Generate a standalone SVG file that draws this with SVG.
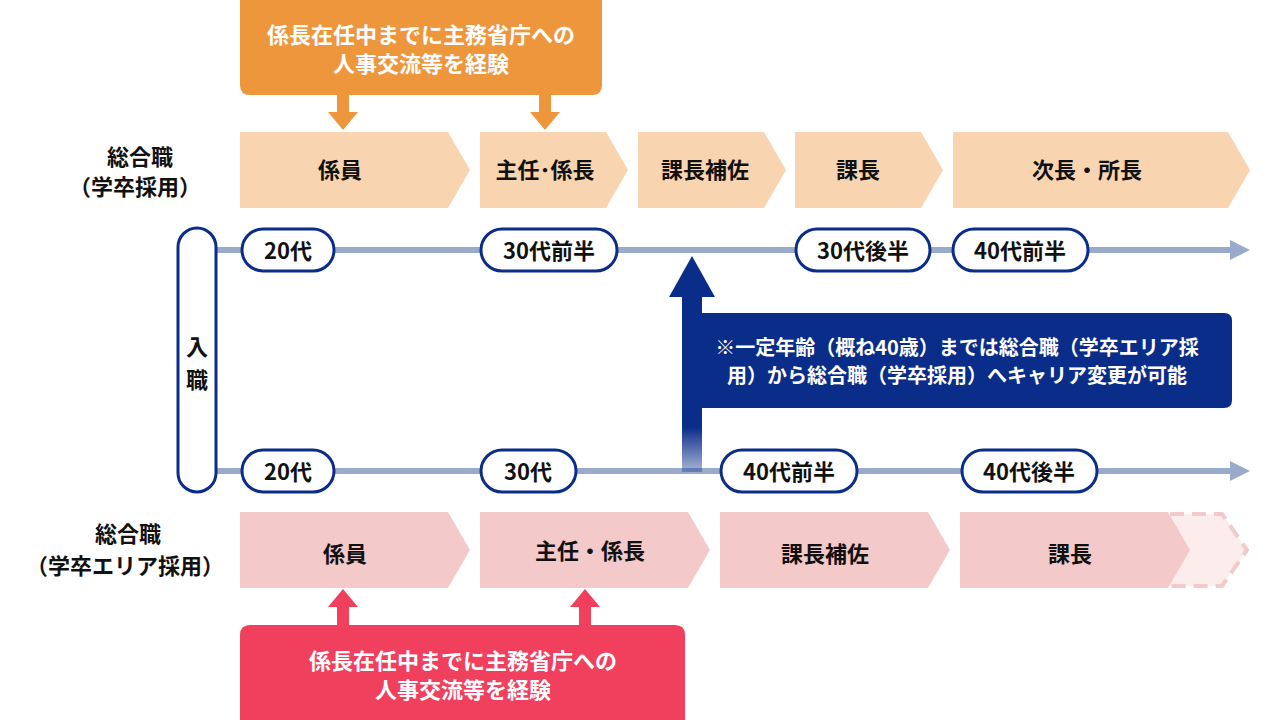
<svg xmlns="http://www.w3.org/2000/svg" width="1280" height="720" viewBox="0 0 1280 720">
<style>
text{font-family:"Noto Sans CJK JP","Noto Sans",sans-serif;font-weight:bold;font-size:22px;fill:#111;text-anchor:middle;dominant-baseline:central}
.w{fill:#fff}
.pill{fill:#fff;stroke:#0B2D8A;stroke-width:3}
.ct{fill:#F8D5B0}
.cb{fill:#F4C9C9}
.tl{stroke:#9AAACB;stroke-width:6;fill:none}
</style>
<defs>
<linearGradient id="fade" x1="0" y1="0" x2="0" y2="1">
<stop offset="0" stop-color="#0B2D8A"/><stop offset="0.75" stop-color="#0B2D8A"/><stop offset="1" stop-color="#0B2D8A" stop-opacity="0.35"/>
</linearGradient>
</defs>
<rect width="1280" height="720" fill="#fff"/>
<g id="connectors">
<line class="tl" x1="215" y1="250" x2="1232" y2="250"/>
<polygon points="1230,240 1250,250 1230,260" fill="#9AAACB"/>
<line class="tl" x1="215" y1="471" x2="1232" y2="471"/>
<polygon points="1230,461 1250,471 1230,481" fill="#9AAACB"/>
<rect x="337" y="95" width="12" height="18" fill="#EE963C"/><polygon points="328,112 358,112 343,130" fill="#EE963C"/>
<rect x="539" y="95" width="12" height="18" fill="#EE963C"/><polygon points="530,112 560,112 545,130" fill="#EE963C"/>
<rect x="337" y="606" width="12" height="20" fill="#F0405E"/><polygon points="328,607 358,607 343,589" fill="#F0405E"/>
<rect x="579" y="606" width="12" height="20" fill="#F0405E"/><polygon points="570,607 600,607 585,589" fill="#F0405E"/>
</g>
<g id="orange-note">
<path d="M240,0 H602 V85 Q602,95 592,95 H250 Q240,95 240,85 Z" fill="#EE963C"/>
<text class="w" x="421" y="33">係長在任中までに主務省庁への</text>
<text class="w" x="421" y="62">人事交流等を経験</text>
</g>
<g id="label-top"><text x="140" y="155">総合職</text><text x="135" y="185">（学卒採用）</text></g>
<g id="label-bottom"><text x="128" y="532">総合職</text><text x="125" y="564">（学卒エリア採用）</text></g>
<g id="top-chevrons">
<polygon class="ct" points="240,132 448,132 470,170 448,208 240,208"/><text x="340" y="168">係員</text>
<polygon class="ct" points="480,132 606,132 628,170 606,208 480,208"/><text x="545" y="168">主任･係長</text>
<polygon class="ct" points="638,132 764,132 786,170 764,208 638,208"/><text x="705" y="168">課長補佐</text>
<polygon class="ct" points="795,132 921,132 943,170 921,208 795,208"/><text x="858" y="168">課長</text>
<polygon class="ct" points="953,132 1228,132 1250,170 1228,208 953,208"/><text x="1087" y="168">次長・所長</text>
</g>
<g id="bottom-chevrons">
<polygon class="cb" points="240,512 448,512 470,550 448,588 240,588"/><text x="345" y="552">係員</text>
<polygon class="cb" points="480,512 688,512 710,550 688,588 480,588"/><text x="590" y="549">主任・係長</text>
<polygon class="cb" points="720,512 928,512 950,550 928,588 720,588"/><text x="825" y="552">課長補佐</text>
<polygon points="1170,514 1222,514 1247,550 1222,586 1170,586" fill="#FDECEC" stroke="#F4C9C9" stroke-width="4" stroke-dasharray="14,8"/>
<polygon class="cb" points="960,512 1168,512 1190,550 1168,588 960,588"/><text x="1070" y="552">課長</text>
</g>
<g id="entry"><rect class="pill" x="178" y="228" width="38" height="264" rx="19"/><text x="197" y="345">入</text><text x="197" y="378">職</text></g>
<g id="top-pills">
<rect class="pill" x="242" y="229" width="92" height="42" rx="21"/><text x="288" y="249">20代</text>
<rect class="pill" x="481" y="229" width="136" height="42" rx="21"/><text x="549" y="249">30代前半</text>
<rect class="pill" x="796" y="229" width="134" height="42" rx="21"/><text x="863" y="249">30代後半</text>
<rect class="pill" x="953" y="229" width="135" height="42" rx="21"/><text x="1020" y="249">40代前半</text>
</g>
<g id="bottom-pills">
<rect class="pill" x="242" y="450" width="92" height="42" rx="21"/><text x="288" y="470">20代</text>
<rect class="pill" x="481" y="450" width="95" height="42" rx="21"/><text x="528" y="470">30代</text>
<rect class="pill" x="721" y="450" width="136" height="42" rx="21"/><text x="789" y="470">40代前半</text>
<rect class="pill" x="962" y="450" width="135" height="42" rx="21"/><text x="1029" y="470">40代後半</text>
</g>
<g id="career-change">
<rect x="682" y="294" width="20" height="178" fill="url(#fade)"/>
<polygon points="669,297 692,256 715,297" fill="#0B2D8A"/>
<path d="M702,313 H1224 Q1232,313 1232,321 V400 Q1232,408 1224,408 H702 Z" fill="#0B2D8A"/>
<text class="w" x="957" y="346" style="font-size:20px">※一定年齢（概ね40歳）までは総合職（学卒エリア採</text>
<text class="w" x="957" y="374" style="font-size:20px">用）から総合職（学卒採用）へキャリア変更が可能</text>
</g>
<g id="pink-note">
<path d="M250,625 H675 Q685,625 685,635 V720 H240 V635 Q240,625 250,625 Z" fill="#F0405E"/>
<text class="w" x="463" y="659">係長在任中までに主務省庁への</text>
<text class="w" x="463" y="688">人事交流等を経験</text>
</g>
</svg>
